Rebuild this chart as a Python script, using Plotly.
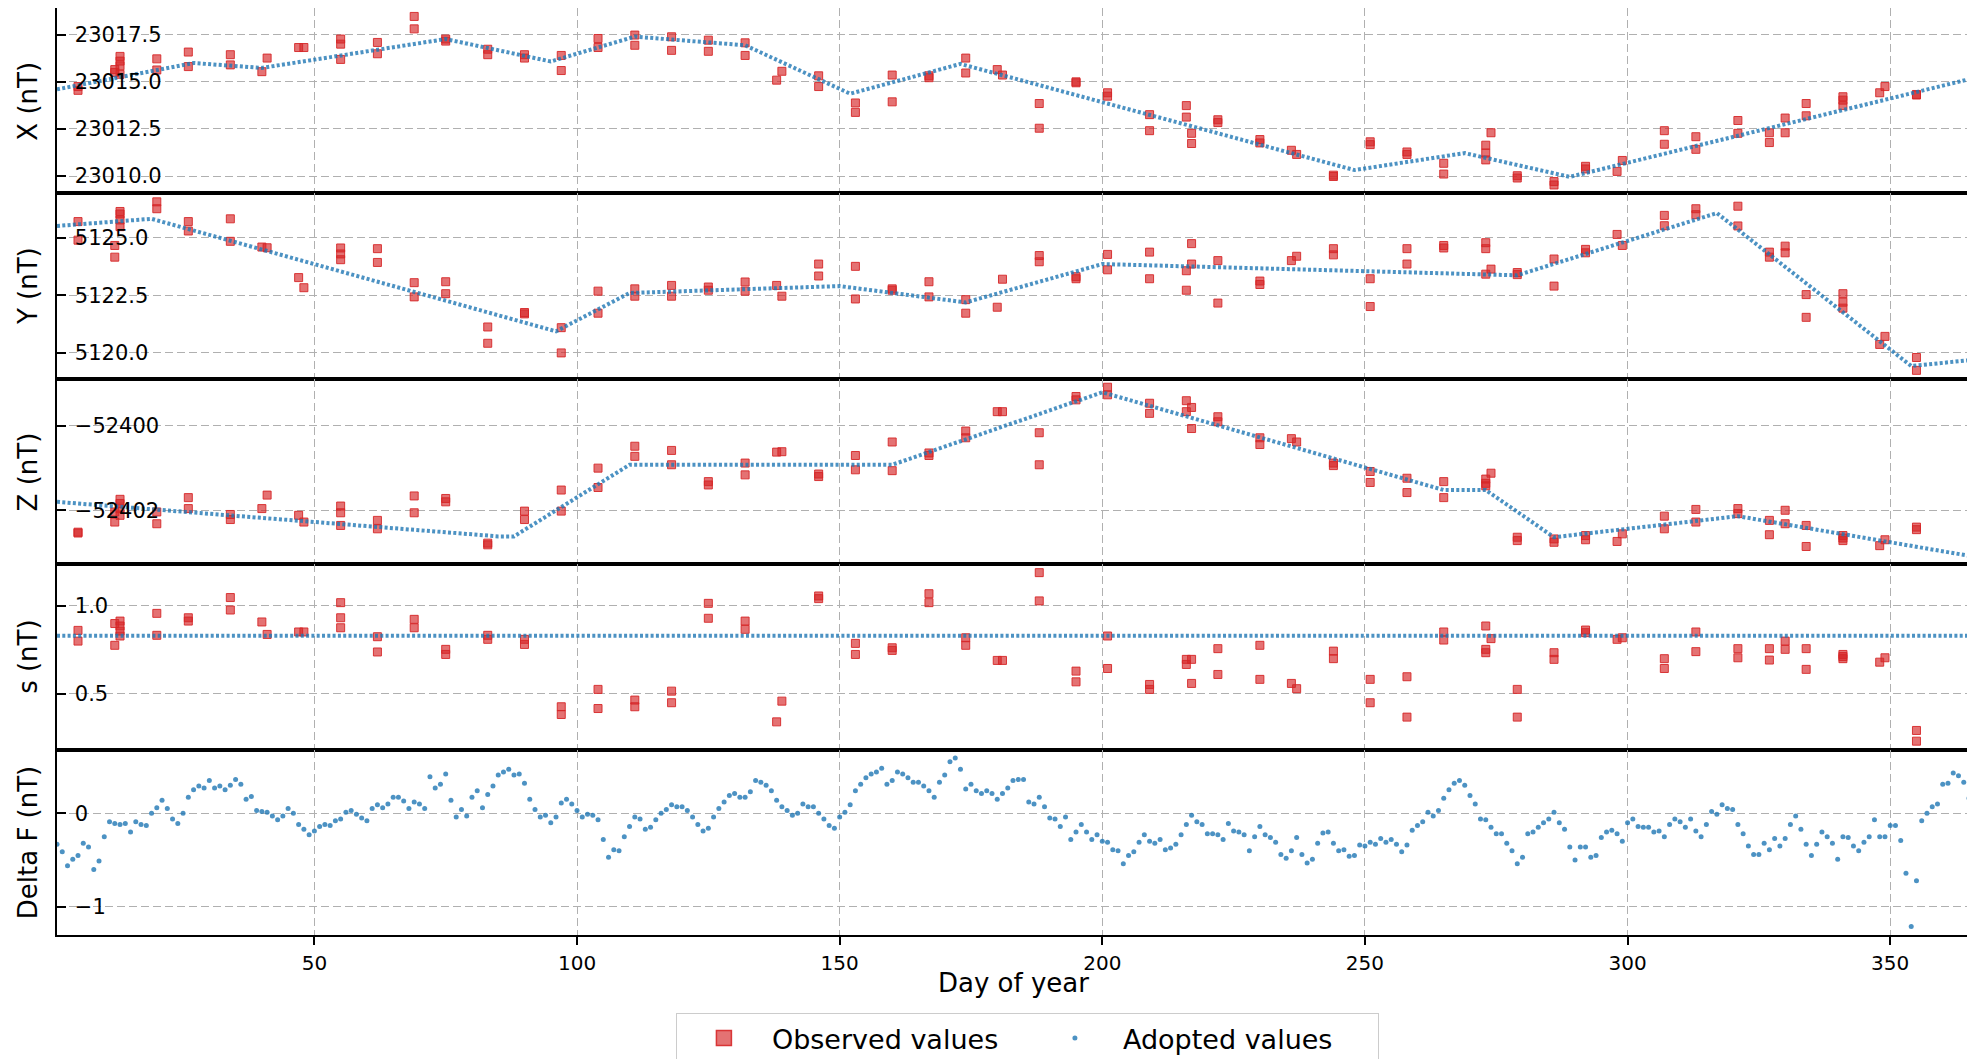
import plotly.graph_objects as go
from plotly.subplots import make_subplots

# --- observed values (several per visit) ---
obs_day = [5, 5, 12, 12, 13, 13, 13, 13, 20, 20, 26, 26, 34, 34, 40, 41, 47, 48,
           55, 55, 55, 62, 62, 69, 69, 75, 75, 83, 83, 90, 90, 97, 97, 104, 104,
           111, 111, 118, 118, 125, 125, 132, 132, 138, 139, 146, 146, 153, 153,
           160, 160, 167, 167, 174, 174, 180, 181, 188, 188, 195, 195, 201, 201,
           209, 209, 216, 216, 217, 217, 222, 222, 230, 230, 236, 237, 244, 244,
           251, 251, 258, 258, 265, 265, 273, 273, 273, 274, 279, 279, 286, 286,
           292, 292, 298, 299, 307, 307, 313, 313, 321, 321, 327, 327, 330, 330,
           334, 334, 341, 341, 341, 348, 349, 355, 355]

obs_x = [23014.75, 23014.55, 23015.65, 23015.50, 23016.35, 23016.10, 23015.85, 23015.40,
         23016.22, 23015.63, 23016.58, 23015.81, 23016.44, 23015.90, 23015.54, 23016.26,
         23016.82, 23016.82, 23017.27, 23017.00, 23016.19, 23017.09, 23016.49, 23018.47,
         23017.81, 23017.27, 23017.16, 23016.73, 23016.44, 23016.44, 23016.26, 23016.40,
         23015.60, 23017.30, 23016.82, 23017.48, 23016.94, 23017.39, 23016.67, 23017.21,
         23016.62, 23017.07, 23016.40, 23015.09, 23015.56, 23015.32, 23014.75, 23013.88,
         23013.38, 23015.36, 23013.94, 23015.32, 23015.22, 23016.26, 23015.47, 23015.65,
         23015.36, 23013.85, 23012.54, 23015.00, 23014.95, 23014.42, 23014.24, 23013.26,
         23012.41, 23013.74, 23013.13, 23012.27, 23011.73, 23012.99, 23012.84, 23011.94,
         23011.76, 23011.37, 23011.15, 23010.05, 23009.98, 23011.82, 23011.67, 23011.28,
         23011.15, 23010.68, 23010.11, 23011.64, 23011.22, 23010.86, 23012.30, 23010.02,
         23009.90, 23009.71, 23009.53, 23010.52, 23010.38, 23010.25, 23010.83, 23012.41,
         23011.69, 23012.09, 23011.42, 23012.95, 23012.27, 23012.30, 23011.78, 23013.08,
         23012.30, 23013.85, 23013.20, 23014.21, 23014.03, 23013.74, 23014.42, 23014.75,
         23014.33, 23014.30]

obs_y = [5125.71, 5124.90, 5124.67, 5124.16, 5126.15, 5126.04, 5125.78, 5125.49,
         5126.57, 5126.27, 5125.71, 5125.30, 5125.83, 5124.85, 5124.60, 5124.57,
         5123.27, 5122.83, 5124.56, 5124.30, 5124.05, 5124.53, 5123.93, 5123.05,
         5122.43, 5123.09, 5122.57, 5121.12, 5120.41, 5121.75, 5121.69, 5121.09,
         5119.99, 5122.68, 5121.72, 5122.78, 5122.46, 5122.93, 5122.46, 5122.86,
         5122.72, 5123.08, 5122.68, 5122.93, 5122.46, 5123.86, 5123.34, 5123.76,
         5122.34, 5122.78, 5122.72, 5123.09, 5122.43, 5122.31, 5121.72, 5121.98,
         5123.20, 5124.23, 5123.96, 5123.31, 5123.22, 5124.28, 5123.61, 5124.38,
         5123.22, 5123.57, 5122.72, 5124.75, 5123.86, 5124.01, 5122.16, 5123.12,
         5122.97, 5124.01, 5124.20, 5124.53, 5124.26, 5123.22, 5122.01, 5124.53,
         5123.86, 5124.67, 5124.56, 5124.79, 5124.53, 5123.42, 5123.64, 5123.49,
         5123.40, 5124.08, 5122.90, 5124.50, 5124.35, 5125.15, 5124.67, 5125.98,
         5125.53, 5126.27, 5126.01, 5126.38, 5125.52, 5124.38, 5124.16, 5124.64,
         5124.35, 5122.53, 5121.54, 5122.57, 5121.94, 5122.20, 5120.36, 5120.71,
         5119.79, 5119.23]

obs_z = [-52402.52, -52402.54, -52402.04, -52402.28, -52401.74, -52401.84, -52401.96, -52402.12,
         -52402.04, -52402.32, -52401.70, -52401.96, -52402.10, -52402.22, -52401.96, -52401.64,
         -52402.12, -52402.28, -52401.90, -52402.06, -52402.36, -52402.24, -52402.44, -52401.66,
         -52402.06, -52401.72, -52401.80, -52402.78, -52402.82, -52402.02, -52402.22, -52401.52,
         -52402.02, -52401.00, -52401.46, -52400.48, -52400.72, -52400.58, -52400.92, -52401.32,
         -52401.40, -52400.88, -52401.16, -52400.62, -52400.61, -52401.14, -52401.20, -52400.70,
         -52401.04, -52400.38, -52401.06, -52400.64, -52400.70, -52400.12, -52400.28, -52399.66,
         -52399.66, -52400.16, -52400.92, -52399.30, -52399.38, -52399.08, -52399.26, -52399.46,
         -52399.70, -52399.40, -52399.66, -52399.56, -52400.06, -52399.78, -52399.90, -52400.28,
         -52400.44, -52400.30, -52400.38, -52400.88, -52400.94, -52401.08, -52401.34, -52401.24,
         -52401.58, -52401.32, -52401.70, -52401.26, -52401.36, -52401.42, -52401.12, -52402.64,
         -52402.72, -52402.68, -52402.76, -52402.60, -52402.70, -52402.74, -52402.56, -52402.14,
         -52402.44, -52401.98, -52402.28, -52401.96, -52402.08, -52402.24, -52402.58, -52402.00,
         -52402.32, -52402.36, -52402.86, -52402.60, -52402.72, -52402.66, -52402.84, -52402.70,
         -52402.40, -52402.46]

obs_s = [0.861, 0.800, 0.900, 0.776, 0.914, 0.886, 0.857, 0.829, 0.958, 0.833, 0.933, 0.914,
         1.048, 0.977, 0.909, 0.838, 0.852, 0.852, 1.019, 0.933, 0.876, 0.825, 0.738, 0.924,
         0.876, 0.753, 0.724, 0.833, 0.810, 0.810, 0.781, 0.426, 0.382, 0.525, 0.416, 0.464,
         0.426, 0.515, 0.449, 1.015, 0.930, 0.914, 0.867, 0.340, 0.458, 1.057, 1.042, 0.787,
         0.724, 0.762, 0.747, 1.070, 1.019, 0.819, 0.776, 0.690, 0.690, 1.190, 1.029, 0.629,
         0.568, 0.829, 0.644, 0.553, 0.525, 0.696, 0.667, 0.696, 0.559, 0.757, 0.610, 0.776,
         0.582, 0.559, 0.529, 0.743, 0.700, 0.582, 0.449, 0.597, 0.367, 0.852, 0.806, 0.886,
         0.753, 0.734, 0.814, 0.525, 0.367, 0.734, 0.696, 0.863, 0.848, 0.810, 0.819, 0.700,
         0.644, 0.852, 0.740, 0.757, 0.705, 0.757, 0.692, 0.800, 0.753, 0.757, 0.639, 0.724,
         0.700, 0.712, 0.680, 0.705, 0.291, 0.230]

# --- adopted baselines (breakpoints) ---
adp_x_day = [1, 27, 40, 75, 95, 111, 132, 152, 173, 248, 269, 289, 365]
adp_x = [23014.60, 23016.00, 23015.74, 23017.27, 23016.08, 23017.40, 23016.94,
         23014.37, 23015.95, 23010.32, 23011.22, 23009.96, 23015.14]

adp_y_day = [1, 19, 96, 110, 150, 174, 200, 279, 317, 354, 365]
adp_y = [5125.52, 5125.83, 5120.93, 5122.60, 5122.90, 5122.19, 5123.86,
         5123.37, 5126.08, 5119.42, 5119.67]

adp_z_day = [1, 85, 88, 110, 160, 200, 265, 273, 286, 321, 365]
adp_z = [-52401.80, -52402.62, -52402.62, -52400.92, -52400.92, -52399.20,
         -52401.52, -52401.52, -52402.64, -52402.14, -52403.08]

adp_s_day = [1, 365]
adp_s = [0.83, 0.83]

# --- daily Delta F ---
days = list(range(1, 366))
delta_f = [
    -0.33, -0.41, -0.56, -0.49, -0.45, -0.32, -0.36, -0.60, -0.51, -0.25,
    -0.09, -0.11, -0.12, -0.11, -0.20, -0.09, -0.12, -0.13, 0.00, 0.06,
    0.14, 0.05, -0.06, -0.11, 0.00, 0.17, 0.25, 0.29, 0.27, 0.35,
    0.27, 0.29, 0.25, 0.30, 0.36, 0.31, 0.15, 0.18, 0.03, 0.02,
    0.01, -0.03, -0.07, -0.03, 0.05, 0.00, -0.12, -0.17, -0.23, -0.19,
    -0.14, -0.12, -0.13, -0.08, -0.06, 0.01, 0.03, -0.01, -0.05, -0.08,
    0.05, 0.09, 0.06, 0.10, 0.17, 0.17, 0.13, 0.05, 0.12, 0.10,
    0.05, 0.39, 0.27, 0.31, 0.42, 0.14, -0.04, 0.04, -0.03, 0.17,
    0.24, 0.06, 0.20, 0.29, 0.41, 0.44, 0.47, 0.41, 0.42, 0.32,
    0.15, 0.04, -0.04, -0.02, -0.10, -0.04, 0.11, 0.15, 0.10, 0.03,
    -0.04, -0.01, -0.02, -0.07, -0.28, -0.47, -0.39, -0.40, -0.25, -0.14,
    -0.04, -0.06, -0.17, -0.15, -0.07, 0.00, 0.04, 0.09, 0.07, 0.07,
    0.03, -0.04, -0.12, -0.19, -0.16, -0.04, 0.05, 0.12, 0.19, 0.21,
    0.17, 0.17, 0.23, 0.35, 0.33, 0.30, 0.24, 0.14, 0.07, 0.03,
    -0.02, 0.00, 0.10, 0.07, 0.07, 0.00, -0.06, -0.13, -0.16, -0.04,
    0.01, 0.09, 0.24, 0.31, 0.38, 0.42, 0.44, 0.48, 0.31, 0.35,
    0.44, 0.42, 0.38, 0.33, 0.33, 0.29, 0.24, 0.17, 0.33, 0.41,
    0.55, 0.59, 0.47, 0.26, 0.31, 0.24, 0.21, 0.24, 0.21, 0.15,
    0.21, 0.27, 0.35, 0.36, 0.36, 0.12, 0.10, 0.17, 0.07, -0.05,
    -0.06, -0.14, -0.04, -0.28, -0.20, -0.12, -0.20, -0.28, -0.23, -0.30,
    -0.31, -0.39, -0.40, -0.54, -0.45, -0.41, -0.31, -0.23, -0.30, -0.32,
    -0.28, -0.39, -0.37, -0.33, -0.23, -0.12, -0.02, -0.09, -0.12, -0.22,
    -0.22, -0.23, -0.28, -0.11, -0.19, -0.20, -0.23, -0.40, -0.25, -0.14,
    -0.23, -0.26, -0.31, -0.44, -0.48, -0.40, -0.26, -0.44, -0.53, -0.49,
    -0.32, -0.21, -0.20, -0.32, -0.40, -0.39, -0.46, -0.45, -0.34, -0.35,
    -0.31, -0.33, -0.27, -0.31, -0.28, -0.33, -0.41, -0.34, -0.18, -0.13,
    -0.09, 0.01, -0.03, 0.03, 0.16, 0.25, 0.32, 0.35, 0.30, 0.19,
    0.10, -0.06, -0.07, -0.15, -0.22, -0.22, -0.32, -0.40, -0.54, -0.47,
    -0.22, -0.20, -0.15, -0.10, -0.06, 0.01, -0.10, -0.17, -0.36, -0.50,
    -0.36, -0.36, -0.47, -0.45, -0.26, -0.20, -0.18, -0.22, -0.30, -0.10,
    -0.06, -0.14, -0.15, -0.15, -0.20, -0.19, -0.25, -0.12, -0.06, -0.09,
    -0.15, -0.06, -0.19, -0.25, -0.12, 0.02, -0.01, 0.09, 0.05, 0.04,
    -0.12, -0.22, -0.35, -0.44, -0.44, -0.32, -0.39, -0.27, -0.35, -0.27,
    -0.12, -0.03, -0.17, -0.33, -0.45, -0.33, -0.20, -0.25, -0.32, -0.49,
    -0.25, -0.26, -0.35, -0.40, -0.31, -0.25, -0.07, -0.25, -0.25, -0.13,
    -0.13, -0.29, -0.64, -1.21, -0.72, -0.08, 0.00, 0.07, 0.10, 0.31,
    0.32, 0.43, 0.40, 0.33, 0.16,
]

# --- axis labels / ticks ---
y_titles = ["X (nT)", "Y (nT)", "Z (nT)", "s (nT)", "Delta F (nT)"]
y_tickvals = [[23010.0, 23012.5, 23015.0, 23017.5],
              [5120.0, 5122.5, 5125.0],
              [-52402, -52400],
              [0.5, 1.0],
              [-1, 0]]
y_ticktext = [["23010.0", "23012.5", "23015.0", "23017.5"],
              ["5120.0", "5122.5", "5125.0"],
              ["\u221252402", "\u221252400"],
              ["0.5", "1.0"],
              ["\u22121", "0"]]
x_tickvals = [50, 100, 150, 200, 250, 300, 350]

RED = "rgba(214,39,40,0.65)"
RED_EDGE = "rgba(214,39,40,0.9)"
BLUE = "rgba(31,119,180,0.8)"
FONT = "DejaVu Sans"

fig = make_subplots(rows=5, cols=1, shared_xaxes=True, vertical_spacing=0)

obs_sets = [obs_x, obs_y, obs_z, obs_s]
adp_sets = [(adp_x_day, adp_x), (adp_y_day, adp_y), (adp_z_day, adp_z), (adp_s_day, adp_s)]

for i in range(4):
    fig.add_trace(go.Scatter(
        x=obs_day, y=obs_sets[i], mode="markers", name="Observed values",
        marker=dict(symbol="square", size=8, color=RED,
                    line=dict(color=RED_EDGE, width=1)),
        showlegend=False, legendgroup="obs"), row=i + 1, col=1)
    dd, vv = adp_sets[i]
    fig.add_trace(go.Scatter(
        x=dd, y=vv, mode="lines", name="Adopted values",
        line=dict(color=BLUE, width=4, dash="3px,2.3px"),
        showlegend=False, legendgroup="adp"), row=i + 1, col=1)

fig.add_trace(go.Scatter(
    x=days, y=delta_f, mode="markers", name="Adopted values",
    marker=dict(size=5, color=BLUE), showlegend=False, legendgroup="adp"),
    row=5, col=1)

# legend entries (larger symbols as in the original legend)
fig.add_trace(go.Scatter(
    x=[None], y=[None], mode="markers", name="Observed values",
    marker=dict(symbol="square", size=15, color=RED,
                line=dict(color=RED_EDGE, width=1.5)), legendgroup="obs"),
    row=1, col=1)
fig.add_trace(go.Scatter(
    x=[None], y=[None], mode="markers", name="Adopted values",
    marker=dict(size=5, color=BLUE), legendgroup="adp"), row=1, col=1)

# y ranges with 5% padding like matplotlib autoscale
data_sets = [obs_x + adp_x, obs_y + adp_y, obs_z + adp_z, obs_s + adp_s, delta_f]
for i in range(5):
    lo, hi = min(data_sets[i]), max(data_sets[i])
    pad = 0.05 * (hi - lo)
    fig.update_yaxes(
        row=i + 1, col=1, range=[lo - pad, hi + pad], automargin=False,
        tickvals=y_tickvals[i], ticktext=y_ticktext[i],
        ticks="inside", ticklen=9, tickwidth=2, tickcolor="black",
        ticklabelposition="inside", ticklabelstandoff=10,
        tickfont=dict(family=FONT, size=21, color="black"),
        showgrid=True, gridcolor="#b0b0b0", gridwidth=1.3, griddash="8px,4px",
        showline=True, mirror=True, linecolor="black", linewidth=2,
        zeroline=False)

for i in range(5):
    fig.update_xaxes(
        row=i + 1, col=1, range=[1, 365], tickvals=x_tickvals, automargin=False,
        showgrid=True, gridcolor="#b0b0b0", gridwidth=1.3, griddash="8px,4px",
        showline=True, mirror=True, linecolor="black", linewidth=2,
        zeroline=False,
        showticklabels=(i == 4), ticks=("outside" if i == 4 else ""),
        ticklen=8, tickwidth=1.5, tickcolor="black", ticklabelstandoff=1,
        tickfont=dict(family=FONT, size=20, color="black"))

# y-axis titles, centred on each panel
for i in range(5):
    dom = fig.layout["yaxis" + ("" if i == 0 else str(i + 1))].domain
    fig.add_annotation(text=y_titles[i], xref="paper", yref="paper",
                       x=-0.0152, y=(dom[0] + dom[1]) / 2, textangle=-90,
                       xanchor="center", yanchor="middle", showarrow=False,
                       font=dict(family=FONT, size=26, color="black"))

fig.add_annotation(text="Day of year", xref="paper", yref="paper",
                   x=0.5, y=-0.0518, xanchor="center", yanchor="middle",
                   showarrow=False, font=dict(family=FONT, size=26, color="black"))

fig.update_layout(
    width=1967, height=1059,
    margin=dict(l=49, r=6, t=0, b=132),
    plot_bgcolor="white", paper_bgcolor="white",
    font=dict(family=FONT, color="black"),
    legend=dict(orientation="h", x=0.3237, xanchor="left", y=-0.0841, yanchor="top",
                font=dict(family=FONT, size=27, color="black"),
                bordercolor="#cccccc", borderwidth=1, bgcolor="white",
                itemwidth=86, entrywidth=250),
)

fig.write_html("out.html")
